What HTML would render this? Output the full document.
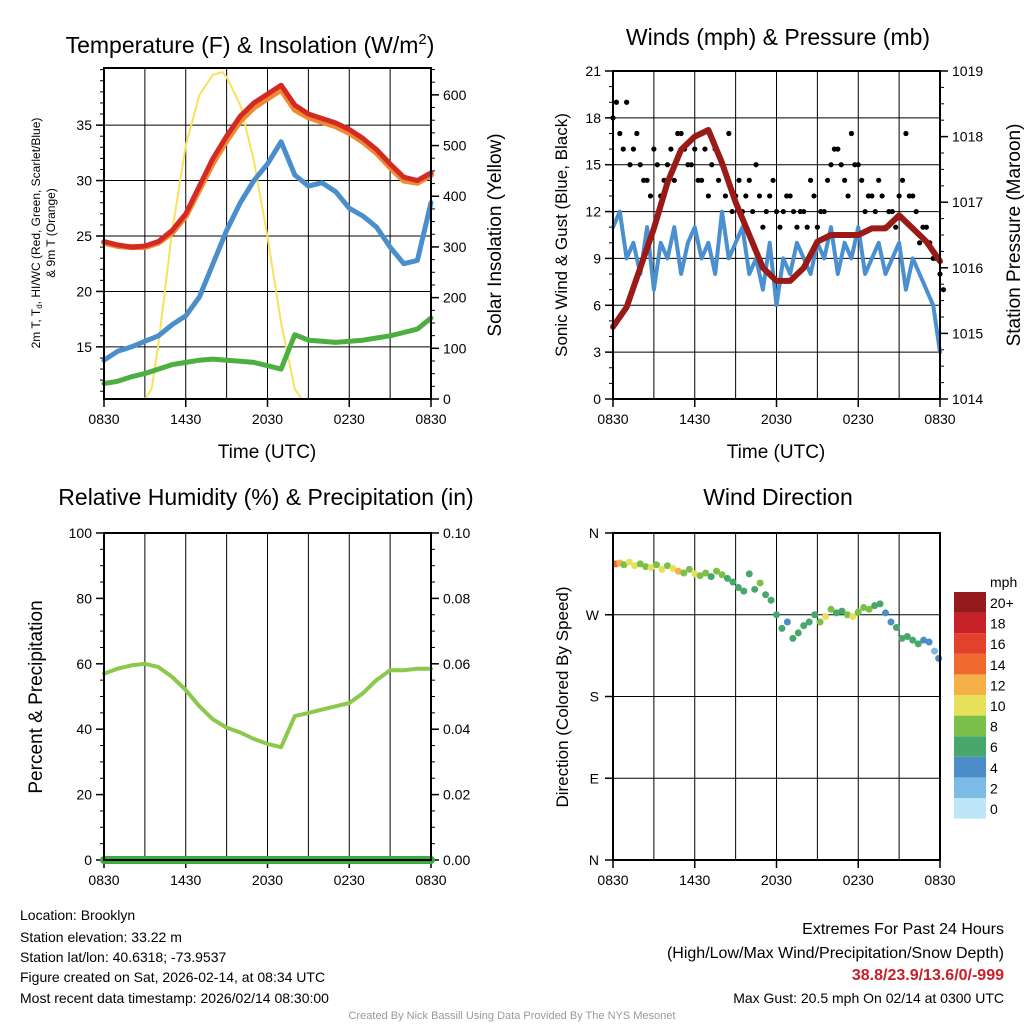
<!DOCTYPE html>
<html><head><meta charset="utf-8"><style>
html,body{margin:0;padding:0;background:#fff;}
svg{display:block;font-family:"Liberation Sans",Arial,sans-serif;}
</style></head><body>
<svg id="c" width="1024" height="1024" viewBox="0 0 1024 1024" xmlns="http://www.w3.org/2000/svg"></svg>
<script>
// ---- data (hours since 0830 UTC) ----
const hourTicks = ["0830","1430","2030","0230","0830"];
const tempRed = [24.5,24.2,24.0,24.1,24.5,25.5,27.0,29.5,32.0,34.0,35.8,37.0,37.8,38.6,36.8,36.0,35.6,35.2,34.6,33.8,32.8,31.5,30.3,30.0,30.7];
const tempOrange = [24.4,24.1,24.0,24.0,24.4,25.3,26.8,29.2,31.6,33.6,35.4,36.6,37.4,38.2,36.4,35.7,35.3,34.9,34.3,33.5,32.5,31.2,30.0,29.8,30.5];
const dewBlue = [13.8,14.6,15.0,15.5,16.0,17.0,17.8,19.5,22.5,25.5,28.0,30.0,31.5,33.5,30.5,29.5,29.8,29.0,27.5,26.8,25.8,24.0,22.5,22.8,28.0];
const wcGreen = [11.7,11.9,12.3,12.6,13.0,13.4,13.6,13.8,13.9,13.8,13.7,13.6,13.3,13.0,16.1,15.6,15.5,15.4,15.5,15.6,15.8,16.0,16.3,16.6,17.6];
const solarTimes = [0,3,3.5,4,5,6,7,8,8.7,9,10,11,12,13,14,14.5,24];
const solarVals = [0,0,20,110,330,500,600,640,645,635,580,470,320,150,20,0,0];
const windSonic = [11,12,9,10,8,11,7,10,9,11,8,10,11,9,10,8,12,9,10,11,8,9,7,10,6,9,8,10,9,8,10,9,11,8,10,9,11,8,9,10,8,9,10,7,9,8,7,6,3];
const gustA = [18,17,19,16,15,14,16,13,15,14,17,15,16,14,13,16,15,17,13,12,14,15,11,13,12,12,13,11,12,14,11,12,15,16,14,17,15,12,13,14,11,12,13,17,13,10,11,9,8];
const gustB = [19,16,15,17,14,13,15,14,16,17,16,15,14,16,15,14,13,12,14,13,12,13,12,14,11,13,12,12,11,13,12,14,16,15,13,15,14,13,12,13,12,11,14,13,12,11,10,9,7];
const pressure = [1015.1,1015.4,1016.0,1016.6,1017.3,1017.8,1018.0,1018.1,1017.6,1017.0,1016.5,1016.0,1015.8,1015.8,1016.0,1016.4,1016.5,1016.5,1016.5,1016.6,1016.6,1016.8,1016.6,1016.4,1016.1];
const rhVals = [57,58.5,59.5,60,59,56,52,47,43,40.5,39,37,35.5,34.5,44,45,46,47,48,51,55,58,58,58.5,58.5];
const precipVals = [0,0,0,0,0,0,0,0,0,0,0,0,0,0,0,0,0,0,0,0,0,0,0,0,0];
const dirTimes = [0.2,0.5,0.8,1.2,1.6,2,2.4,2.8,3.2,3.6,4,4.4,4.8,5.2,5.6,6,6.4,6.8,7.2,7.6,8,8.4,8.8,9.2,9.6,10,10.4,10.8,11.2,11.6,12,12.4,12.8,13.2,13.6,14,14.4,14.8,15.2,15.6,16,16.4,16.8,17.2,17.6,18,18.4,18.8,19.2,19.6,20,20.4,20.8,21.2,21.6,22,22.4,22.8,23.2,23.6,23.9];
const dirVals = [326,327,325,328,324,326,323,322,325,320,324,321,318,316,320,315,313,316,312,318,314,310,306,300,296,315,298,305,292,286,270,255,262,244,250,258,262,270,262,268,276,272,274,270,268,273,278,276,280,282,272,262,256,244,246,242,238,242,240,230,222];
const dirSpeeds = [14,12,9,10,10,8,8,11,9,10,9,10,12,8,8,10,8,9,7,8,8,7,6,7,7,6,6,8,7,6,6,7,5,6,6,6,7,6,9,10,8,6,7,8,10,9,9,8,7,6,5,4,7,6,6,6,6,5,4,3,4];
const cbLabels = ["0","2","4","6","8","10","12","14","16","18","20+"];
const cbColors = ["#bde5f7","#7cbbe5","#4a8dc8","#48a76a","#7cc04a","#e6e05a","#f6b04a","#f0692f","#e2412b","#c62228","#951a1c"];

const svg = document.getElementById('c');
const NS = "http://www.w3.org/2000/svg";
function el(tag, attrs, parent){ const e=document.createElementNS(NS,tag); for(const k in attrs) e.setAttribute(k,attrs[k]); (parent||svg).appendChild(e); return e; }
function txt(s,x,y,size,anchor,parent,extra){ const t=el('text',Object.assign({x:x,y:y,'font-size':size,'text-anchor':anchor||'middle',fill:'#000'},extra||{}),parent); t.textContent=s; return t; }

function panel(name,L,T,R,B){
  const g=el('g',{});
  
  
  const sx=h=>L+(R-L)*h/24;
  for(let i=0;i<=8;i++){ const x=sx(i*3); el('line',{x1:x,y1:T,x2:x,y2:B,stroke:'#000','stroke-width':1},g); }
  for(let i=0;i<=4;i++){ const x=sx(i*6); el('line',{x1:x,y1:B,x2:x,y2:B+8,stroke:'#000','stroke-width':1.5},g); txt(hourTicks[i],x,B+25,14,'middle',g); }
  return {g,sx,L,T,R,B};
}
function yAxis(p,side,min,max,step,minor,fmt,labelMax,name){
  const sy=v=>p.B-(p.B-p.T)*(v-min)/(max-min);
  const x=side==='l'?p.L:p.R, d=side==='l'?-1:1;
  const g=el('g',{},p.g);
  
  
  const fm=Math.ceil(min/minor-1e-9)*minor;
  for(let v=fm;v<=max+1e-9;v+=minor){ el('line',{x1:x,y1:sy(v),x2:x+d*4,y2:sy(v),stroke:'#000','stroke-width':1},g); }
  const first=Math.ceil(min/step-1e-9)*step;
  for(let v=first;v<=max+1e-9;v+=step){ if(v>labelMax+1e-9) continue; const y=sy(v); el('line',{x1:x,y1:y,x2:x+d*8,y2:y,stroke:'#000','stroke-width':1.5},g);
    txt(fmt(v),x+d*12,y+5,14,side==='l'?'end':'start',g); }
  return sy;
}
function hgrid(p,sy,vals){ vals.forEach(v=>el('line',{x1:p.L,y1:sy(v),x2:p.R,y2:sy(v),stroke:'#000','stroke-width':1},p.g)); }
function polyline(p,xs,ys,sx,sy,color,w,name){
  const pts=xs.map((t,i)=>sx(t).toFixed(1)+','+sy(ys[i]).toFixed(1)).join(' ');
  const l=el('polyline',{points:pts,fill:'none',stroke:color,'stroke-width':w,'stroke-linejoin':'round','stroke-linecap':'round'},p.g);
  
  
  return l;
}
const hrs=a=>a.map((_,i)=>i*24/(a.length-1));
function frame(p){ el('rect',{x:p.L,y:p.T,width:p.R-p.L,height:p.B-p.T,fill:'none',stroke:'#000','stroke-width':2},p.g); }

// ---------- Panel 1 ----------
let p1=panel('temperature-panel',104,68,431,399);
let sT=yAxis(p1,'l',10.3,40.15,5,1,v=>String(Math.round(v)),35,'temp-y-axis');
let sS=yAxis(p1,'r',0,653,100,25,v=>String(Math.round(v)),600,'solar-y-axis');
hgrid(p1,sT,[15,20,25,30,35]);
polyline(p1,solarTimes,solarVals,p1.sx,sS,'#f7e35a',2,'solar-insolation-line');
polyline(p1,hrs(wcGreen),wcGreen,p1.sx,sT,'#4cb040',5,'hiwc-green-line');
polyline(p1,hrs(dewBlue),dewBlue,p1.sx,sT,'#4a8fcc',5,'dewpoint-blue-line');
polyline(p1,hrs(tempOrange),tempOrange,p1.sx,sT,'#f08a30',6,'temp-9m-orange-line');
polyline(p1,hrs(tempRed),tempRed,p1.sx,sT,'#d42a24',5,'temp-2m-red-line');
frame(p1);
let t1=txt('Temperature (F) & Insolation (W/m',250,53,23,'middle',svg); 
t1.setAttribute('y','53');
const sup=el('tspan',{dy:-9,'font-size':15},t1); sup.textContent='2'; const cl=el('tspan',{dy:9},t1); cl.textContent=')';
let xl1=txt('Time (UTC)',267,458,19); 
let yl1=el('text',{transform:'translate(40,233) rotate(-90)','font-size':12,'text-anchor':'middle'}); 
yl1.appendChild(document.createTextNode('2m T, T'));
const sub=el('tspan',{'font-size':8,dy:2},yl1); sub.textContent='d';
const rest=el('tspan',{dy:-2},yl1); rest.textContent=', HI/WC (Red, Green, Scarlet/Blue)';
let yl1b=el('text',{transform:'translate(55,233) rotate(-90)','font-size':12,'text-anchor':'middle'}); yl1b.textContent='& 9m T (Orange)';

let yr1=el('text',{transform:'translate(501,235) rotate(-90)','font-size':19,'text-anchor':'middle'}); yr1.textContent='Solar Insolation (Yellow)';


// ---------- Panel 2 ----------
let p2=panel('wind-pressure-panel',613,71,940,399);
let sW=yAxis(p2,'l',0,21,3,1,v=>String(v),21,'wind-y-axis');
let sP=yAxis(p2,'r',1014,1019,1,0.25,v=>String(Math.round(v)),1019,'pressure-y-axis');
hgrid(p2,sW,[3,6,9,12,15,18]);
polyline(p2,hrs(windSonic),windSonic,p2.sx,sW,'#4a90d0',4,'sonic-wind-line');
[gustA,gustB].forEach((arr,k)=>arr.forEach((v,i)=>{ const c=el('circle',{cx:p2.sx(i*0.5+k*0.25),cy:sW(v),r:2.6,fill:'#000'},p2.g);
  
   }));
polyline(p2,hrs(pressure),pressure,p2.sx,sP,'#9a1a18',6,'pressure-line');
frame(p2);
let t2=txt('Winds (mph) & Pressure (mb)',778,45,23); 
let xl2=txt('Time (UTC)',776,458,19); 
let yl2=el('text',{transform:'translate(567,235) rotate(-90)','font-size':17,'text-anchor':'middle'}); yl2.textContent='Sonic Wind & Gust (Blue, Black)';

let yr2=el('text',{transform:'translate(1020,235) rotate(-90)','font-size':19,'text-anchor':'middle'}); yr2.textContent='Station Pressure (Maroon)';


// ---------- Panel 3 ----------
let p3=panel('humidity-panel',104,533,431,860);
let sR=yAxis(p3,'l',0,100,20,5,v=>String(v),100,'rh-y-axis');
let sPr=yAxis(p3,'r',0,0.1,0.02,0.005,v=>v.toFixed(2),0.1,'precip-y-axis');
polyline(p3,hrs(rhVals),rhVals,p3.sx,sR,'#8cc84a',4,'rh-line');
polyline(p3,hrs(precipVals),precipVals,p3.sx,sPr,'#3caa3c',8,'precip-line');
frame(p3);
let t3=txt('Relative Humidity (%) & Precipitation (in)',266,505,23); 
let yl3=el('text',{transform:'translate(42,697) rotate(-90)','font-size':19,'text-anchor':'middle'}); yl3.textContent='Percent & Precipitation';


// ---------- Panel 4 ----------
let p4=panel('wind-direction-panel',613,533,940,860);
const sD=v=>p4.B-(p4.B-p4.T)*v/360;
const dl=['N','E','S','W','N'];
for(let i=0;i<=4;i++){ const y=sD(i*90); el('line',{x1:p4.L-8,y1:y,x2:p4.L,y2:y,stroke:'#000','stroke-width':1.5},p4.g); txt(dl[i],p4.L-14,y+5,14,'end',p4.g); if(i>0&&i<4) el('line',{x1:p4.L,y1:y,x2:p4.R,y2:y,stroke:'#000'},p4.g); }
const n=Math.min(dirTimes.length,dirVals.length,dirSpeeds.length);
for(let i=0;i<n;i++){ const c=el('circle',{cx:p4.sx(dirTimes[i]),cy:sD(dirVals[i]),r:3.5,fill:cbColors[Math.min(10,Math.floor(dirSpeeds[i]/2))]},p4.g);
  
   }
frame(p4);
let t4=txt('Wind Direction',778,505,23); 
let yl4=el('text',{transform:'translate(568,697) rotate(-90)','font-size':17,'text-anchor':'middle'}); yl4.textContent='Direction (Colored By Speed)';

// colorbar
const cb=el('g',{});  
const cbTop=592, cbH=20.6;
for(let i=0;i<11;i++){ const y=cbTop+(10-i)*cbH; el('rect',{x:954,y:y,width:32,height:cbH,fill:cbColors[i]},cb); txt(cbLabels[i],990,y+16,14,'start',cb); }
txt('mph',990,587,14,'start',cb);

// ---------- Footer ----------
const foot=[['Location: Brooklyn',920],['Station elevation: 33.22 m',942],['Station lat/lon: 40.6318; -73.9537',962],['Figure created on Sat, 2026-02-14, at 08:34 UTC',982],['Most recent data timestamp: 2026/02/14 08:30:00',1003]];
foot.forEach((f,i)=>{ const t=txt(f[0],20,f[1],14,'start');   });
const r1=txt('Extremes For Past 24 Hours',1004,934,16,'end'); 
const r2=txt('(High/Low/Max Wind/Precipitation/Snow Depth)',1004,958,16,'end'); 
const r3=txt('38.8/23.9/13.6/0/-999',1004,980,16,'end',svg,{fill:'#c8202a','font-weight':'bold'}); 
const r4=txt('Max Gust: 20.5 mph On 02/14 at 0300 UTC',1004,1003,14,'end'); 
const cr=txt('Created By Nick Bassill Using Data Provided By The NYS Mesonet',512,1019,11,'middle',svg,{fill:'#999'}); 
</script>
</body></html>
